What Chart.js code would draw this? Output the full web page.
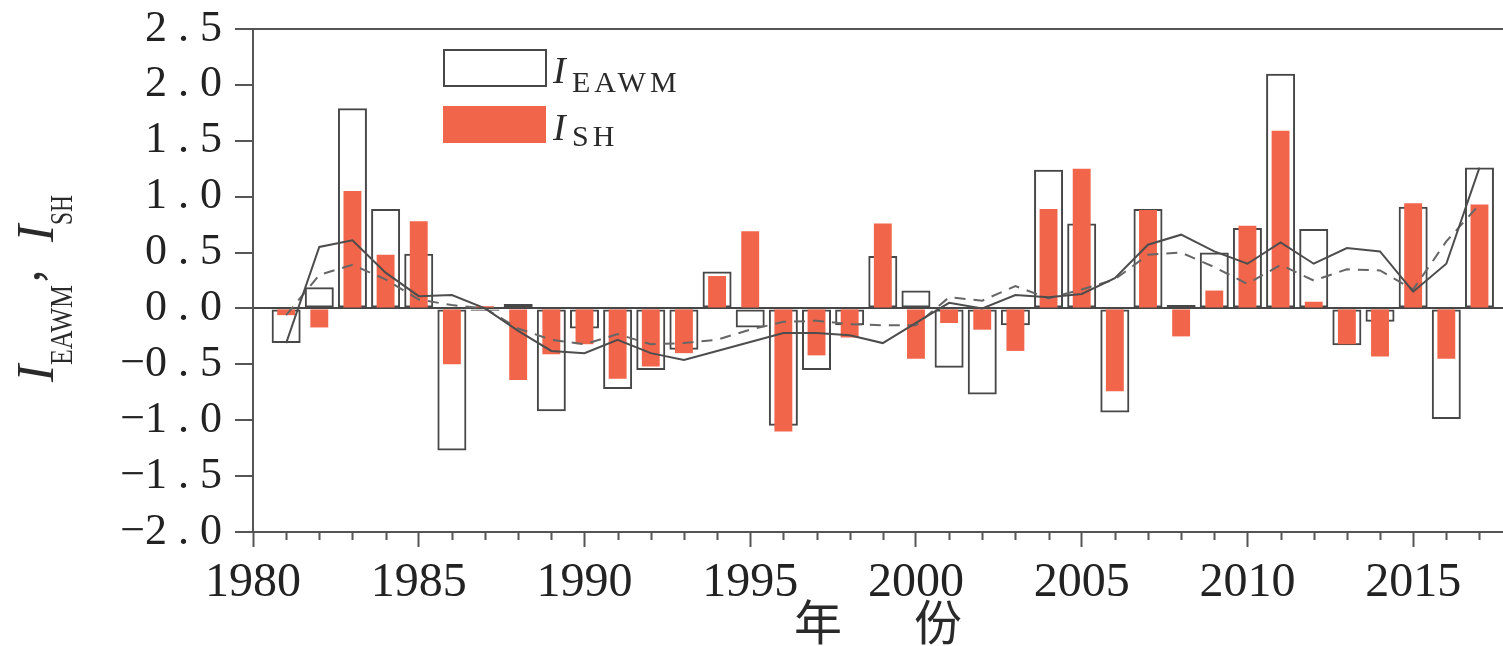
<!DOCTYPE html>
<html>
<head>
<meta charset="utf-8">
<title>I_EAWM / I_SH</title>
<script src="https://cdn.jsdelivr.net/npm/chart.js@4.4.1/dist/chart.umd.min.js"></script>
<style>
html, body { margin: 0; padding: 0; background: #fff; }
#wrap { position: relative; width: 1503px; height: 646px; }
</style>
</head>
<body>
<div id="wrap"><canvas id="index-chart"></canvas></div>
<script>
// data
const years = [1981, 1982, 1983, 1984, 1985, 1986, 1987, 1988, 1989, 1990,
               1991, 1992, 1993, 1994, 1995, 1996, 1997, 1998, 1999, 2000,
               2001, 2002, 2003, 2004, 2005, 2006, 2007, 2008, 2009, 2010,
               2011, 2012, 2013, 2014, 2015, 2016, 2017];
const eawm = [-0.31, 0.19, 1.79, 0.89, 0.49, -1.27, -0.02, 0.04, -0.92, -0.18,
              -0.72, -0.55, -0.37, 0.33, -0.17, -1.05, -0.55, -0.15, 0.47, 0.16,
              -0.53, -0.77, -0.15, 1.24, 0.76, -0.93, 0.89, 0.03, 0.50, 0.72,
              2.10, 0.71, -0.33, -0.12, 0.91, -0.99, 1.26];
const sh = [-0.06, -0.17, 1.05, 0.48, 0.78, -0.50, 0.02, -0.64, -0.41, -0.32,
            -0.63, -0.52, -0.40, 0.29, 0.69, -1.10, -0.42, -0.26, 0.76, -0.45,
            -0.13, -0.19, -0.38, 0.89, 1.25, -0.74, 0.88, -0.25, 0.16, 0.74,
            1.59, 0.06, -0.32, -0.43, 0.94, -0.45, 0.93];
// smoothed curves (solid = EAWM, dashed = SH)
const eawmSmooth = [-0.31, 0.55, 0.61, 0.32, 0.11, 0.12, 0.00, -0.20, -0.38, -0.40,
                    -0.28, -0.40, -0.46, -0.38, -0.30, -0.22, -0.22, -0.24, -0.31, -0.13,
                    0.05, 0.00, 0.12, 0.10, 0.13, 0.27, 0.57, 0.66, 0.51, 0.40,
                    0.59, 0.40, 0.54, 0.51, 0.15, 0.40, 1.26];
const shSmooth = [-0.06, 0.30, 0.39, 0.26, 0.08, 0.03, 0.00, -0.18, -0.28, -0.32,
                  -0.23, -0.32, -0.31, -0.28, -0.19, -0.12, -0.11, -0.14, -0.15, -0.15,
                  0.10, 0.07, 0.20, 0.09, 0.17, 0.26, 0.48, 0.50, 0.37, 0.22,
                  0.39, 0.25, 0.35, 0.34, 0.17, 0.60, 0.93];
const xTitle = '年\u3000\u2002份';

const pts = arr => years.map((yr, i) => ({ x: yr, y: arr[i] }));

function fmtY(v) {
    const s = Math.abs(v).toFixed(1).split('').join(' ');
    return v < 0 ? '\u2212' + s : s;
}

// frame line, minor ticks, legend and rotated y title with subscripts
const d2c_overlay = {
    id: 'overlay',
    afterDraw(chart) {
        const { ctx, chartArea } = chart;
        const xs = chart.scales.x;
        ctx.save();
        ctx.strokeStyle = '#555';
        ctx.lineWidth = 2;
        ctx.beginPath();
        ctx.moveTo(chartArea.left, chartArea.top);
        ctx.lineTo(chartArea.right, chartArea.top);
        for (let yr = 1981; yr <= 2017; yr++) {
            if (yr % 5 === 0) continue;
            const px = Math.round(xs.getPixelForValue(yr)) + 0.5;
            ctx.moveTo(px, chartArea.bottom);
            ctx.lineTo(px, chartArea.bottom + 8);
        }
        ctx.stroke();

        // legend
        const shSet = chart.data.datasets[2];
        const eawmSet = chart.data.datasets[3];
        ctx.strokeStyle = eawmSet.borderColor;
        ctx.lineWidth = 2;
        ctx.strokeRect(444, 50, 102, 36);
        ctx.fillStyle = shSet.backgroundColor;
        ctx.fillRect(443, 106, 103, 37);

        ctx.fillStyle = '#2a2a2a';
        ctx.textBaseline = 'alphabetic';
        ctx.font = 'italic 38px "Liberation Serif"';
        ctx.fillText('I', 553, 83);
        ctx.fillText('I', 553, 140);
        ctx.font = '30px "Liberation Serif"';
        ctx.letterSpacing = '4px';
        ctx.fillText('EAWM', 572, 92);
        ctx.fillText('SH', 572, 146);
        ctx.letterSpacing = '0px';

        // y axis title
        ctx.translate(53, 382);
        ctx.rotate(-Math.PI / 2);
        ctx.font = 'italic 52px "Liberation Serif"';
        ctx.fillText('I', 0, 0, 18);
        ctx.fillText('I', 140, 0, 18);
        ctx.font = '32px "Liberation Serif"';
        ctx.fillText('EAWM', 17, 19, 80);
        ctx.fillText('SH', 157, 19, 30);
        ctx.font = '40px "Noto Sans CJK SC"';
        ctx.fillText('\uFF0C', 96, -10);
        ctx.restore();
    }
};

function d2c_indexChart() {
    const el = document.getElementById('index-chart');
    new Chart(el, {
        type: 'bar',
        data: {
            datasets: [{
                type: 'line',
                label: 'EAWM smoothed',
                data: pts(eawmSmooth),
                borderColor: '#4d4d4d',
                borderWidth: 2,
                pointRadius: 0,
                tension: 0,
                order: 0
            }, {
                type: 'line',
                label: 'SH smoothed',
                data: pts(shSmooth),
                borderColor: '#666',
                borderWidth: 2,
                borderDash: [11, 8],
                pointRadius: 0,
                tension: 0,
                order: 1
            }, {
                label: 'I_SH',
                data: pts(sh),
                backgroundColor: '#f1654a',
                borderWidth: 0,
                barPercentage: 0.54,
                categoryPercentage: 1,
                grouped: false,
                order: 2
            }, {
                label: 'I_EAWM',
                data: pts(eawm),
                backgroundColor: 'rgba(255,255,255,0)',
                borderColor: '#474747',
                borderWidth: 2,
                borderSkipped: false,
                barPercentage: 0.875,
                categoryPercentage: 1,
                grouped: false,
                order: 3
            }]
        },
        options: {
            responsive: true,
            maintainAspectRatio: false,
            animation: false,
            layout: { padding: { top: 29, right: 0, left: 0, bottom: 0 } },
            plugins: {
                legend: { display: false },
                tooltip: { enabled: false }
            },
            scales: {
                x: {
                    type: 'linear',
                    min: 1980,
                    max: 2017.71,
                    offset: false,
                    ticks: {
                        stepSize: 1,
                        autoSkip: false,
                        includeBounds: false,
                        maxRotation: 0,
                        padding: 8,
                        color: '#222',
                        font: { family: 'Liberation Serif', size: 48 },
                        callback: v => (Math.round(v) % 5 === 0 ? String(Math.round(v)) : '')
                    },
                    grid: {
                        offset: false,
                        drawOnChartArea: false,
                        tickLength: 15,
                        tickWidth: 2,
                        tickColor: c => (c.tick && Math.round(c.tick.value) % 5 === 0 ? '#555' : 'rgba(0,0,0,0)')
                    },
                    border: { color: '#555', width: 2 },
                    title: {
                        display: true,
                        text: xTitle,
                        color: '#2a2a2a',
                        font: { family: 'Noto Sans CJK SC', size: 48, lineHeight: 1 },
                        padding: { top: 0, bottom: 0 }
                    },
                    afterFit: s => { s.height = 114; s.paddingLeft = 0; s.paddingRight = 0; }
                },
                y: {
                    min: -2,
                    max: 2.5,
                    ticks: {
                        stepSize: 0.5,
                        autoSkip: false,
                        padding: 13,
                        color: '#222',
                        font: { family: 'Liberation Serif', size: 44, lineHeight: 1 },
                        callback: v => fmtY(v)
                    },
                    grid: {
                        lineWidth: 2,
                        color: c => (c.tick && c.tick.value === 0 ? '#474747' : 'rgba(0,0,0,0)'),
                        tickLength: 18,
                        tickWidth: 2,
                        tickColor: '#555'
                    },
                    border: { color: '#555', width: 2 },
                    afterFit: s => { s.width = 253; s.paddingTop = 0; s.paddingBottom = 0; }
                }
            }
        },
        plugins: [d2c_overlay]
    });
}d2c_indexChart();
</script>
</body>
</html>
